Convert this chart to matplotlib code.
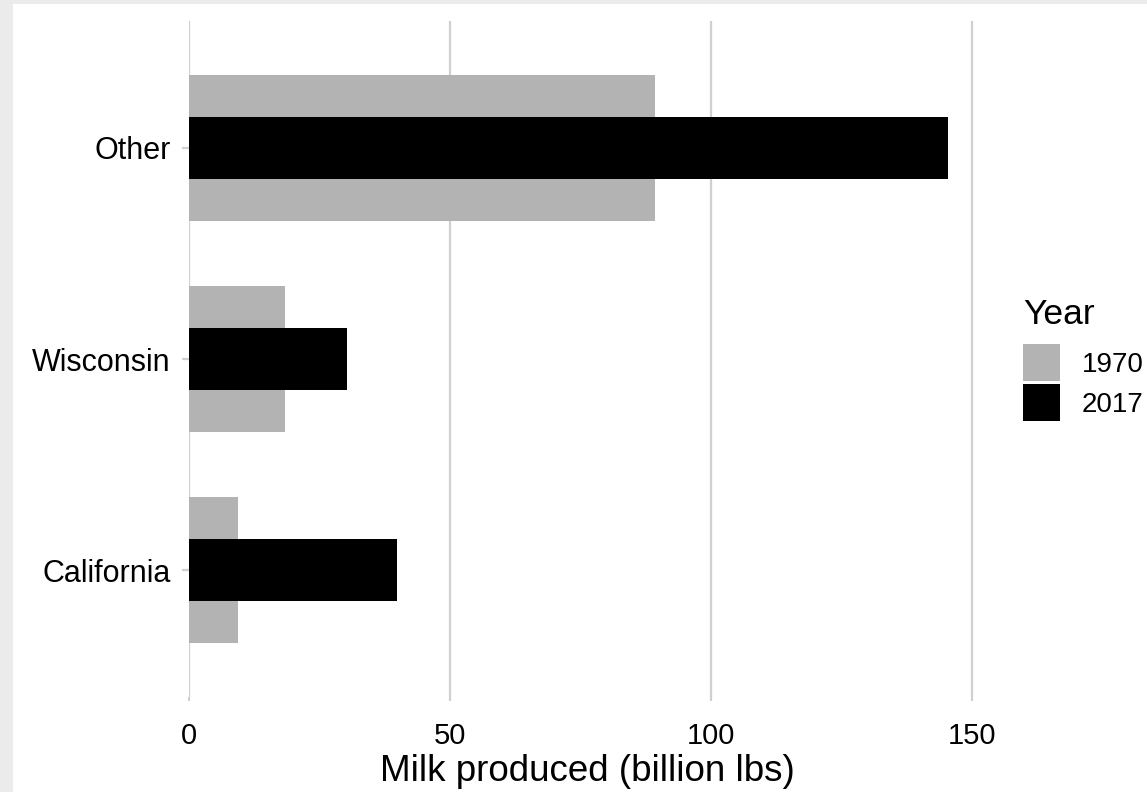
import matplotlib.pyplot as plt
from matplotlib.patches import Rectangle, Patch

plt.rcParams['font.family'] = ['Liberation Sans', 'DejaVu Sans']

# datos
regions = ["California", "Wisconsin", "Other"]
milk_1970 = [9.4, 18.3, 89.3]
milk_2017 = [39.8, 30.2, 145.4]
years = ["1970", "2017"]
colors = ["#b3b3b3", "#000000"]

fig = plt.figure(figsize=(11.47, 7.92), dpi=100, facecolor="#ebebeb")
# fondo blanco del panel exterior
fig.patches.append(Rectangle((13 / 1147, 0), 1, 1 - 4 / 792, transform=fig.transFigure,
                             facecolor="white", edgecolor="none", zorder=-10))

ax = fig.add_axes([189 / 1147, 1 - 697 / 792, (986 - 189) / 1147, (697 - 21) / 792])
ax.set_facecolor("none")

pos = range(1, len(regions) + 1)
ax.barh(pos, milk_1970, height=0.69, color=colors[0], zorder=2)
ax.barh(pos, milk_2017, height=0.295, color=colors[1], zorder=3)

ax.set_xlim(0, 152.7)
ax.set_ylim(0.4, 3.6)
ax.set_yticks(list(pos))
ax.set_yticklabels(regions)
ax.set_xticks([0, 50, 100, 150])
ax.xaxis.grid(True, color="#d0d0d0", linewidth=1.6, zorder=1)
ax.set_axisbelow(True)
for s in ax.spines.values():
    s.set_visible(False)
ax.tick_params(axis="both", labelsize=22, colors="#d0d0d0", labelcolor="black",
               length=5, width=1.6, pad=8)
ax.tick_params(axis="x", labelsize=21, length=3, pad=15)
ax.set_xlabel("Milk produced (billion lbs)", fontsize=26.5, labelpad=3)

# leyenda
handles = [Patch(facecolor=c, edgecolor="none") for c in colors]
leg = fig.legend(handles, years, title="Year", loc="upper left",
                 bbox_to_anchor=(1023 / 1147, 1 - 298 / 792), frameon=False,
                 fontsize=20, title_fontsize=25.5, handlelength=1.33, handleheight=1.67,
                 labelspacing=0.11, handletextpad=0.79, borderaxespad=0, borderpad=0)
leg._legend_box.align = "left"
leg._legend_box.sep = 9.5

fig.savefig("out.png", dpi=100, facecolor=fig.get_facecolor())
